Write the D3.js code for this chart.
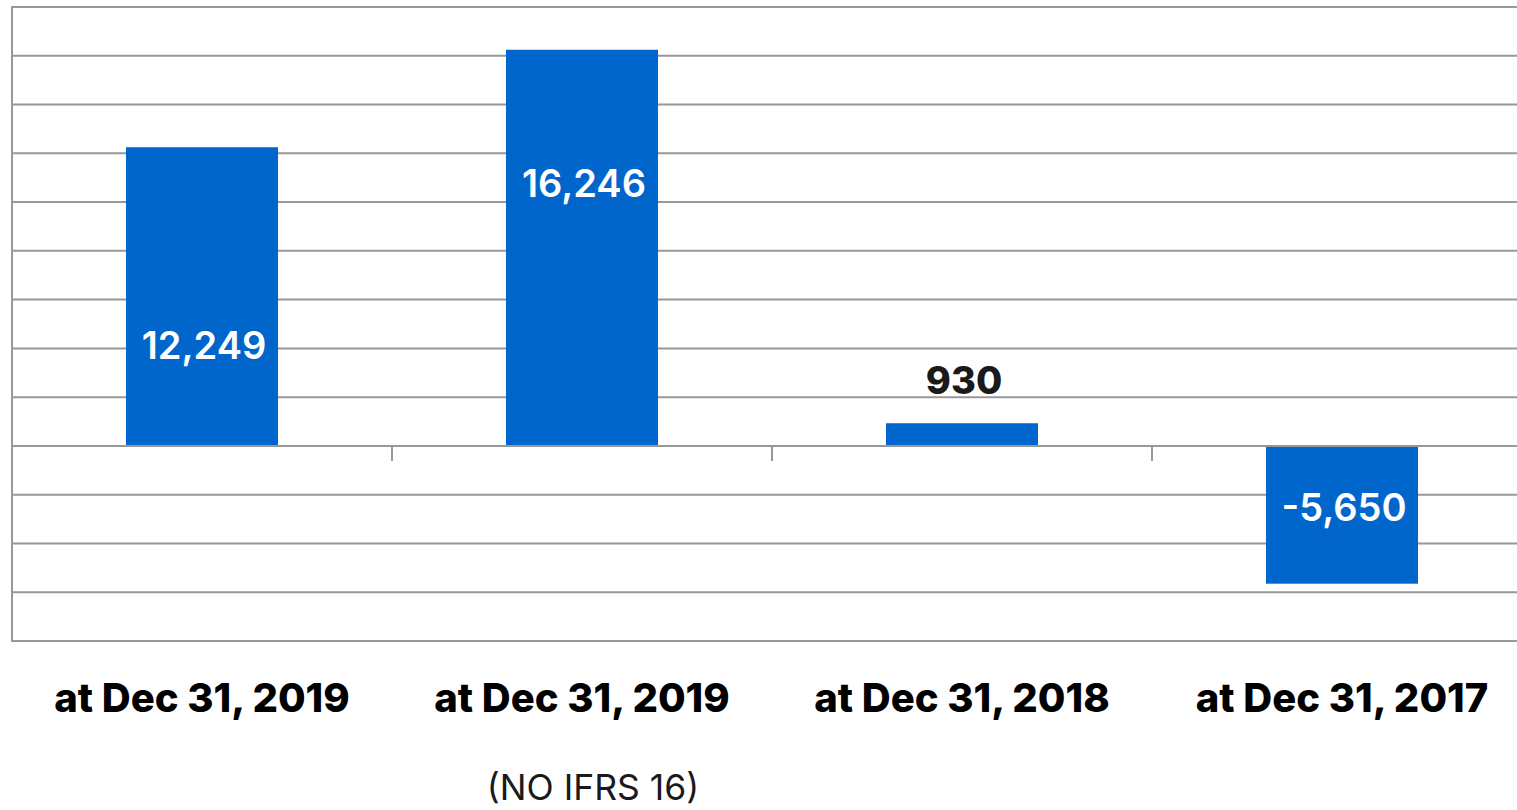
<!DOCTYPE html>
<html><head><meta charset="utf-8">
<script src="https://cdn.jsdelivr.net/npm/d3@7"></script>
<style>html,body{margin:0;padding:0;background:#fff;overflow:hidden}</style>
</head><body>
<svg id="c" width="1517" height="810"></svg>
<script>
const categories = ["at Dec 31, 2019", "at Dec 31, 2019", "at Dec 31, 2018", "at Dec 31, 2017"];
const subLabels = ["", "(NO IFRS 16)", "", ""];
const values = [12249, 16246, 930, -5650];
const valueLabels = ["12,249", "16,246", "930", "-5,650"];
const gridTicks = d3.range(-8000, 18001, 2000);

(function () {
const svg = d3.select("#c");
const mLeft = 12, mRight = 1532, mTop = 7, mBottom = 641;
const x = d3.scaleBand().domain(d3.range(categories.length)).range([mLeft, mRight]).paddingInner(0.6).paddingOuter(0.3);
const y = d3.scaleLinear().domain([-8000, 18000]).range([mBottom, mTop]);

svg.append("g").selectAll("line").data(gridTicks).join("line")
  .attr("x1", mLeft).attr("x2", 1517)
  .attr("y1", d => y(d)).attr("y2", d => y(d))
  .attr("stroke", "#989898").attr("stroke-width", 2);
svg.append("line").attr("x1", mLeft).attr("x2", mLeft).attr("y1", y(18000) - 1).attr("y2", y(-8000) + 1)
  .attr("stroke", "#989898").attr("stroke-width", 2);

svg.append("g").selectAll("rect").data(values).join("rect")
  .attr("x", (d, i) => x(i)).attr("width", x.bandwidth())
  .attr("y", d => y(Math.max(0, d))).attr("height", d => Math.abs(y(d) - y(0)))
  .attr("fill", "#0066CC");

svg.append("line").attr("x1", mLeft).attr("x2", 1517).attr("y1", y(0)).attr("y2", y(0))
  .attr("stroke", "#989898").attr("stroke-width", 2);
const step = x.step();
svg.append("g").selectAll("line").data(d3.range(1, categories.length)).join("line")
  .attr("x1", i => mLeft + step * i).attr("x2", i => mLeft + step * i)
  .attr("y1", y(0)).attr("y2", y(0) + 15)
  .attr("stroke", "#989898").attr("stroke-width", 2);

const labelOffsets = [198, 133, -43, 61];
svg.append("g").selectAll("text").data(values).join("text")
  .attr("x", (d, i) => x(i) + x.bandwidth() / 2 + 2)
  .attr("y", (d, i) => y(Math.max(0, d)) + labelOffsets[i])
  .attr("text-anchor", "middle").attr("dominant-baseline", "central")
  .attr("font-family", "Inter, 'Noto Sans', sans-serif")
  .attr("font-size", 38)
  .attr("font-weight", d => d > 0 && d < 2000 ? 800 : 600)
  .attr("fill", d => d > 0 && d < 2000 ? "#1a1a1a" : "#fff")
  .text((d, i) => valueLabels[i]);

svg.append("g").selectAll("text").data(categories).join("text")
  .attr("x", (d, i) => x(i) + x.bandwidth() / 2)
  .attr("y", 697)
  .attr("text-anchor", "middle").attr("dominant-baseline", "central")
  .attr("font-family", "Inter, 'Noto Sans', sans-serif")
  .attr("font-size", 40).attr("font-weight", 800)
  .attr("fill", "#000")
  .text(d => d);
svg.append("g").selectAll("text").data(subLabels).join("text")
  .attr("x", (d, i) => x(i) + x.bandwidth() / 2 + 11)
  .attr("y", 787)
  .attr("text-anchor", "middle").attr("dominant-baseline", "central")
  .attr("font-family", "Inter, 'Noto Sans', sans-serif")
  .attr("font-size", 35.5).attr("font-weight", 400)
  .attr("fill", "#1a1a1a")
  .text(d => d);
})();
</script>
</body></html>
